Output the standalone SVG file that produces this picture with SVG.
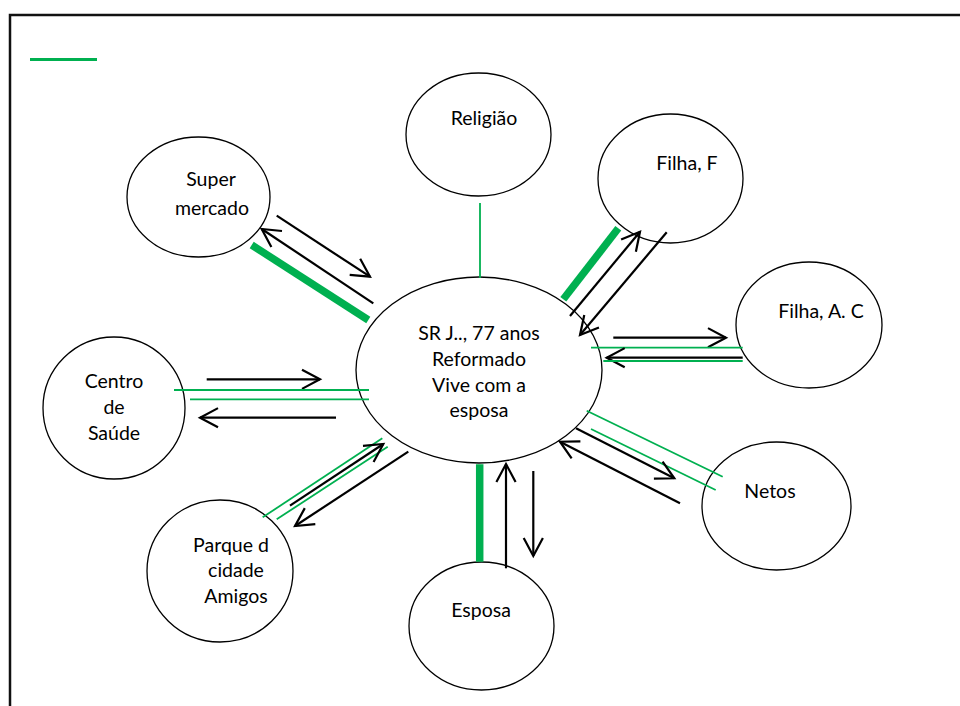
<svg xmlns="http://www.w3.org/2000/svg" width="960" height="706" viewBox="0 0 960 706">
  <style>
    .node ellipse { fill: #ffffff; stroke: #000000; stroke-width: 1.3; }
    .node text { font-family: Lato, "Liberation Sans", Arial, sans-serif; font-size: 19.5px; fill: #000000; text-anchor: middle; }
    .arrow { stroke: #000000; stroke-width: 2.2; fill: none; marker-end: url(#head); }
    .tie { stroke: #00b050; stroke-width: 1.8; fill: none; }
    .strong { stroke: #00b050; stroke-width: 7.5; fill: none; }
    .frame { stroke: #111111; stroke-width: 2.5; fill: none; }
  </style>
  <defs>
    <marker id="head" markerUnits="userSpaceOnUse" markerWidth="26" markerHeight="26" viewBox="-22 -13 26 26" refX="0" refY="0" orient="auto">
      <path d="M-18,-9.6 L0,0 L-18,9.6" fill="none" stroke="#000000" stroke-width="2.2" stroke-linejoin="miter"/>
    </marker>
  </defs>

  <rect width="960" height="706" fill="#ffffff"/>

  <!-- page frame -->
  <path class="frame" d="M10,706 L10,15 L960,15"/>

  <!-- legend stroke -->
  <line x1="30" y1="59.5" x2="97" y2="59.5" stroke="#00b050" stroke-width="3"/>

  <!-- nodes -->
  <g id="node-centro-familia" class="node">
    <ellipse cx="479" cy="370" rx="123" ry="93"/>
    <text x="479" y="340">SR J.., 77 anos</text>
    <text x="479" y="366">Reformado</text>
    <text x="479" y="392">Vive com a</text>
    <text x="479" y="417">esposa</text>
  </g>

  <g id="node-religiao" class="node">
    <ellipse cx="478.5" cy="134.5" rx="72.5" ry="61.5"/>
    <text x="484" y="125">Religião</text>
  </g>

  <g id="node-supermercado" class="node">
    <ellipse cx="198.5" cy="197" rx="71.5" ry="60"/>
    <text x="211" y="186">Super</text>
    <text x="212" y="215">mercado</text>
  </g>

  <g id="node-filha-f" class="node">
    <ellipse cx="670.5" cy="178.5" rx="72.5" ry="64.5"/>
    <text x="687" y="170">Filha, F</text>
  </g>

  <g id="node-filha-ac" class="node">
    <ellipse cx="809" cy="325" rx="73" ry="63"/>
    <text x="821" y="318">Filha, A. C</text>
  </g>

  <g id="node-centro-saude" class="node">
    <ellipse cx="114" cy="408" rx="71" ry="71"/>
    <text x="114" y="388">Centro</text>
    <text x="114" y="414">de</text>
    <text x="114" y="440">Saúde</text>
  </g>

  <g id="node-netos" class="node">
    <ellipse cx="776.5" cy="506" rx="74.5" ry="64"/>
    <text x="770" y="498">Netos</text>
  </g>

  <g id="node-parque" class="node">
    <ellipse cx="220" cy="571" rx="73" ry="71"/>
    <text x="231" y="552">Parque d</text>
    <text x="236" y="577">cidade</text>
    <text x="236" y="603">Amigos</text>
  </g>

  <g id="node-esposa" class="node">
    <ellipse cx="481.5" cy="626" rx="72.5" ry="64"/>
    <text x="481" y="617">Esposa</text>
  </g>

  <!-- connectors -->
  <g id="connectors">
    <!-- Religião -->
    <line class="tie" x1="480" y1="203" x2="480" y2="278"/>
    <!-- Super mercado -->
    <line class="strong" x1="251.7" y1="245" x2="368.3" y2="320"/>
    <line class="arrow" x1="276.7" y1="215.7" x2="370" y2="276.7"/>
    <line class="arrow" x1="373.3" y1="303.3" x2="261.7" y2="229"/>
    <!-- Filha, F -->
    <line class="strong" x1="618.3" y1="228.3" x2="563.3" y2="299.3"/>
    <line class="arrow" x1="570" y1="316" x2="640" y2="231.7"/>
    <line class="arrow" x1="666.7" y1="232.3" x2="580" y2="335"/>
    <!-- Filha, A. C -->
    <line class="arrow" x1="613.3" y1="337.7" x2="726" y2="337.7"/>
    <line class="tie" x1="591" y1="347.7" x2="742.7" y2="347.7"/>
    <line class="arrow" x1="742.7" y1="357.7" x2="606.7" y2="357.7"/>
    <line class="tie" x1="603.3" y1="361" x2="742.7" y2="361"/>
    <!-- Centro de Saúde -->
    <line class="arrow" x1="206.7" y1="379.3" x2="320" y2="379.3"/>
    <line class="tie" x1="174" y1="390" x2="369" y2="390"/>
    <line class="tie" x1="190" y1="399.3" x2="369" y2="399.3"/>
    <line class="arrow" x1="336" y1="417.7" x2="200" y2="417.7"/>
    <!-- Netos -->
    <line class="tie" x1="586.7" y1="410.7" x2="722.7" y2="476.7"/>
    <line class="tie" x1="591" y1="429" x2="715.7" y2="490"/>
    <line class="arrow" x1="576" y1="428.3" x2="674.3" y2="478.3"/>
    <line class="arrow" x1="680" y1="503.3" x2="560" y2="441.7"/>
    <!-- Parque d cidade Amigos -->
    <line class="tie" x1="262.7" y1="517.3" x2="382.3" y2="438.3"/>
    <line class="tie" x1="276.7" y1="519.3" x2="387.7" y2="446.7"/>
    <line class="arrow" x1="290" y1="505.7" x2="383.3" y2="444"/>
    <line class="arrow" x1="408.3" y1="451.7" x2="295" y2="526"/>
    <!-- Esposa -->
    <line class="strong" x1="479.7" y1="464.3" x2="479.7" y2="561.7"/>
    <line class="arrow" x1="506" y1="568.3" x2="506" y2="464"/>
    <line class="arrow" x1="533.3" y1="471" x2="533.3" y2="556"/>
  </g>
</svg>
